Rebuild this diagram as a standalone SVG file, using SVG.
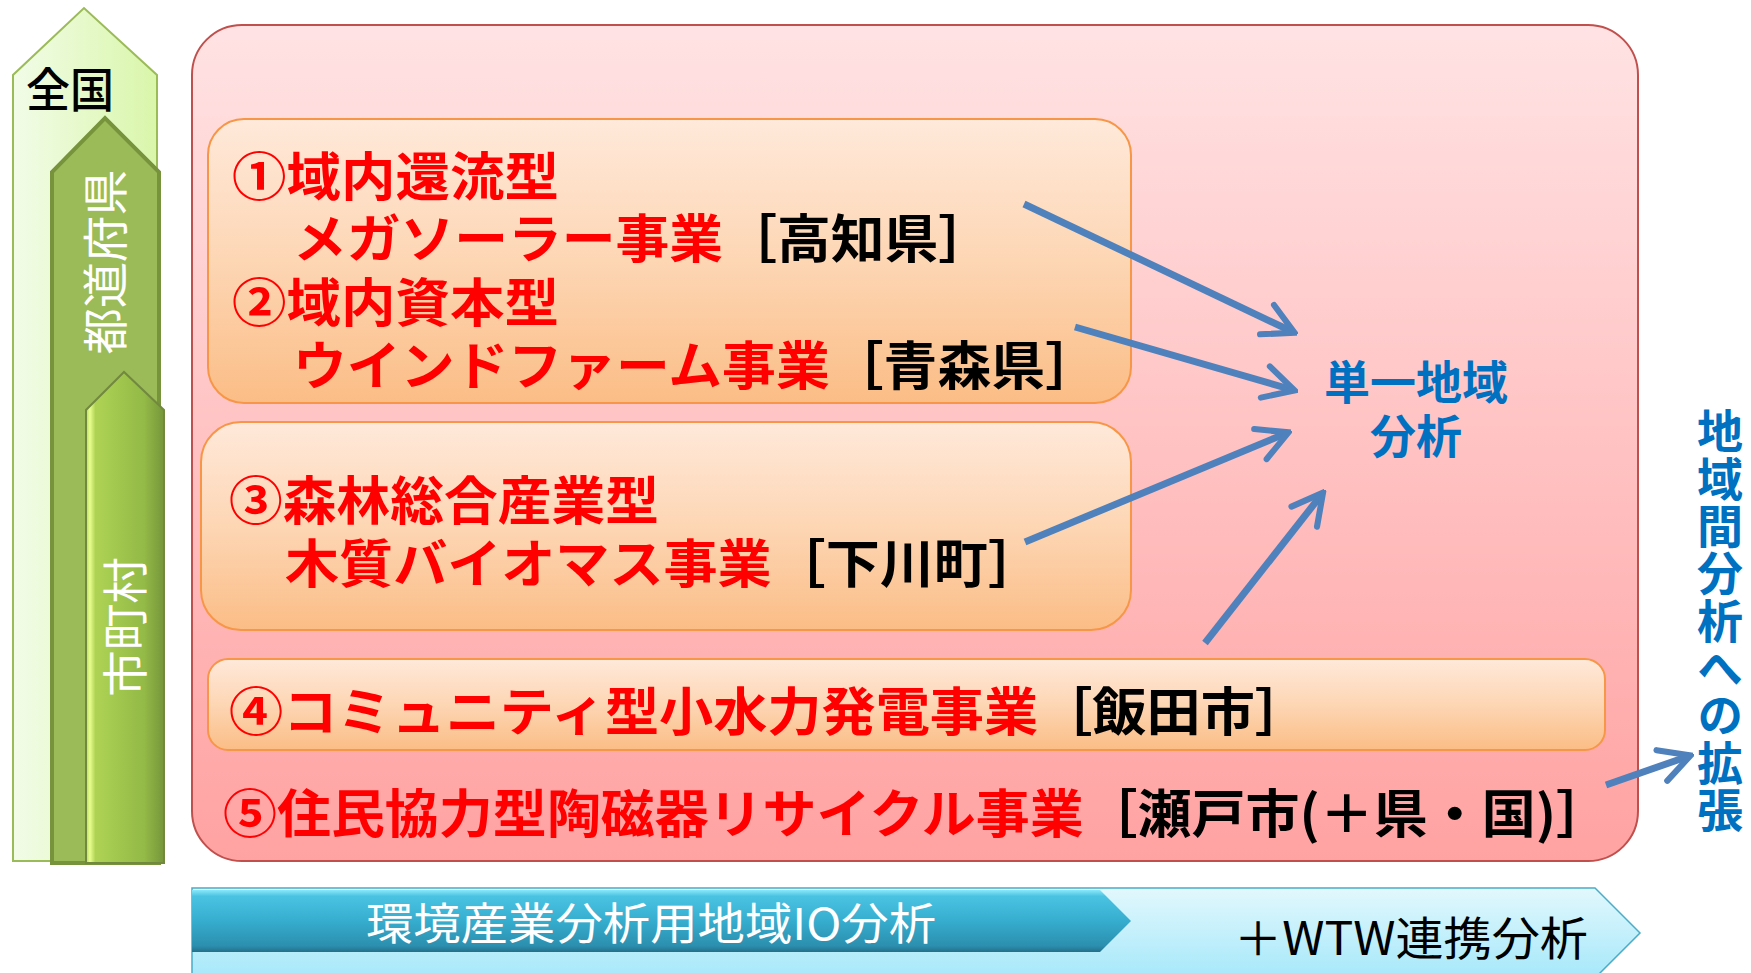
<svg xmlns="http://www.w3.org/2000/svg" width="1751" height="973" viewBox="0 0 1751 973">
<defs>
<linearGradient id="gZenkoku" x1="0" y1="0" x2="1" y2="0"><stop offset="0" stop-color="#F2FCE8"/><stop offset="1" stop-color="#D9F6AA"/></linearGradient>
<linearGradient id="gShi" x1="0" y1="0" x2="1" y2="0"><stop offset="0" stop-color="#B5D85A"/><stop offset="0.05" stop-color="#E8FF8E"/><stop offset="0.12" stop-color="#AED354"/><stop offset="0.75" stop-color="#93B947"/><stop offset="1" stop-color="#76963A"/></linearGradient>
<linearGradient id="gPink" x1="0" y1="0" x2="0" y2="1"><stop offset="0" stop-color="#FFE3E4"/><stop offset="1" stop-color="#FFA2A2"/></linearGradient>
<linearGradient id="gOrange" x1="0" y1="0" x2="0" y2="1"><stop offset="0" stop-color="#FFE9DA"/><stop offset="0.5" stop-color="#FDD6B4"/><stop offset="1" stop-color="#FBBD86"/></linearGradient>
<linearGradient id="gLightBlue" x1="0" y1="0" x2="0" y2="1"><stop offset="0" stop-color="#E2F8FD"/><stop offset="1" stop-color="#A6E8FA"/></linearGradient>
<linearGradient id="gDarkBlue" x1="0" y1="0" x2="0" y2="1"><stop offset="0" stop-color="#8AE8FA"/><stop offset="0.1" stop-color="#4AC3E3"/><stop offset="0.5" stop-color="#36ADCE"/><stop offset="0.9" stop-color="#2C8FAF"/><stop offset="1" stop-color="#246F88"/></linearGradient>
<marker id="ah" viewBox="0 0 12 12" markerWidth="5.8" markerHeight="5.8" refX="10.5" refY="6" orient="auto" markerUnits="strokeWidth">
<path d="M2,1.2 L11,6 L2,10.8" fill="none" stroke="#4F81BD" stroke-width="1.8" stroke-linecap="round" stroke-linejoin="miter"/>
</marker>
<style>
.red{font-family:"Noto Sans CJK JP","Noto Sans CJK SC",sans-serif;font-weight:700;font-size:52px;fill:#FF0000}
.blk{fill:#000000}
.blue{font-family:"Noto Sans CJK JP","Noto Sans CJK SC",sans-serif;font-weight:700;font-size:46px;fill:#0070C0}
.wv{font-family:"Noto Sans CJK JP","Noto Sans CJK SC",sans-serif;font-size:46px;fill:#FFFFFF}
.box{fill:url(#gOrange);stroke:#F79646;stroke-width:2}
.conn{fill:none;stroke:#4F81BD;stroke-width:7;stroke-linecap:butt;marker-end:url(#ah)}
</style>
</defs>

<g id="level-zenkoku">
<path d="M13,861 L13,75 L84,8 L157,75 L157,861 Z" fill="url(#gZenkoku)" stroke="#9BBB59" stroke-width="2"/>
<text x="26" y="107" font-family="'Noto Sans CJK JP',sans-serif" font-size="47" font-weight="500" fill="#000" textLength="88" lengthAdjust="spacingAndGlyphs">全国</text>
</g>
<g id="level-todofuken">
<path d="M52,863 L52,172 L105,118 L159,172 L159,863 Z" fill="#9BBB59" stroke="#77933C" stroke-width="4"/>
<text class="wv" transform="translate(122,262) rotate(-90)" text-anchor="middle" textLength="185" lengthAdjust="spacingAndGlyphs">都道府県</text>
</g>
<g id="level-shichoson">
<path d="M86,863 L86,410 L124,372 L164,410 L164,863 Z" fill="url(#gShi)" stroke="#71893F" stroke-width="2"/>
<text class="wv" transform="translate(142,627) rotate(-90)" text-anchor="middle" textLength="140" lengthAdjust="spacingAndGlyphs">市町村</text>
</g>

<g id="bottom-wtw">
<path d="M192,888 L1595,888 L1640,933 L1595,978 L192,978 Z" fill="url(#gLightBlue)" stroke="#4BACC6" stroke-width="1.5"/>
<text x="1234" y="955" font-family="'Noto Sans CJK JP',sans-serif" font-size="46" fill="#000" textLength="354" lengthAdjust="spacingAndGlyphs">＋WTW連携分析</text>
</g>
<g id="bottom-io">
<path d="M192,890 L1100,890 L1131,921 L1100,952 L192,952 Z" fill="url(#gDarkBlue)"/>
<text x="366" y="940" font-family="'Noto Sans CJK JP',sans-serif" font-size="44" fill="#FFFFFF" textLength="570" lengthAdjust="spacingAndGlyphs">環境産業分析用地域IO分析</text>
</g>

<g id="main-area">
<rect x="192" y="25" width="1446" height="836" rx="50" ry="50" fill="url(#gPink)" stroke="#C0504D" stroke-width="2"/>
</g>

<g id="case-1-2">
<rect class="box" x="208" y="119" width="923" height="284" rx="36" ry="36"/>
<text class="red" x="232" y="196" textLength="327" lengthAdjust="spacingAndGlyphs">①域内還流型</text>
<text class="red" x="293" y="258" textLength="699" lengthAdjust="spacingAndGlyphs">メガソーラー事業<tspan class="blk">［高知県］</tspan></text>
<text class="red" x="232" y="322" textLength="327" lengthAdjust="spacingAndGlyphs">②域内資本型</text>
<text class="red" x="293" y="385" textLength="806" lengthAdjust="spacingAndGlyphs">ウインドファーム事業<tspan class="blk">［青森県］</tspan></text>
</g>
<g id="case-3">
<rect class="box" x="201" y="422" width="930" height="208" rx="40" ry="40"/>
<text class="red" x="229" y="520" textLength="430" lengthAdjust="spacingAndGlyphs">③森林総合産業型</text>
<text class="red" x="285" y="583" textLength="757" lengthAdjust="spacingAndGlyphs">木質バイオマス事業<tspan class="blk">［下川町］</tspan></text>
</g>
<g id="case-4">
<rect class="box" x="208" y="659" width="1397" height="91" rx="20" ry="20"/>
<text class="red" x="229" y="731" textLength="1080" lengthAdjust="spacingAndGlyphs">④コミュニティ型小水力発電事業<tspan class="blk">［飯田市］</tspan></text>
</g>
<g id="case-5">
<text class="red" x="223" y="833" textLength="1387" lengthAdjust="spacingAndGlyphs">⑤住民協力型陶磁器リサイクル事業<tspan class="blk">［瀬戸市(＋県・国)］</tspan></text>
</g>

<g id="single-region">
<text class="blue" x="1416" y="399" text-anchor="middle">単一地域</text>
<text class="blue" x="1416" y="453" text-anchor="middle">分析</text>
</g>

<g id="inter-region">
<text class="blue" x="1720" y="408" writing-mode="vertical-rl" letter-spacing="1.3">地域間分析への拡張</text>
</g>

<g id="connectors">
<line class="conn" x1="1024" y1="204" x2="1293" y2="332"/>
<line class="conn" x1="1075" y1="327" x2="1293" y2="390"/>
<line class="conn" x1="1025" y1="542" x2="1287" y2="433"/>
<line class="conn" x1="1205" y1="643" x2="1322" y2="494"/>
<line class="conn" x1="1606" y1="785" x2="1689" y2="756"/>
</g>
</svg>
